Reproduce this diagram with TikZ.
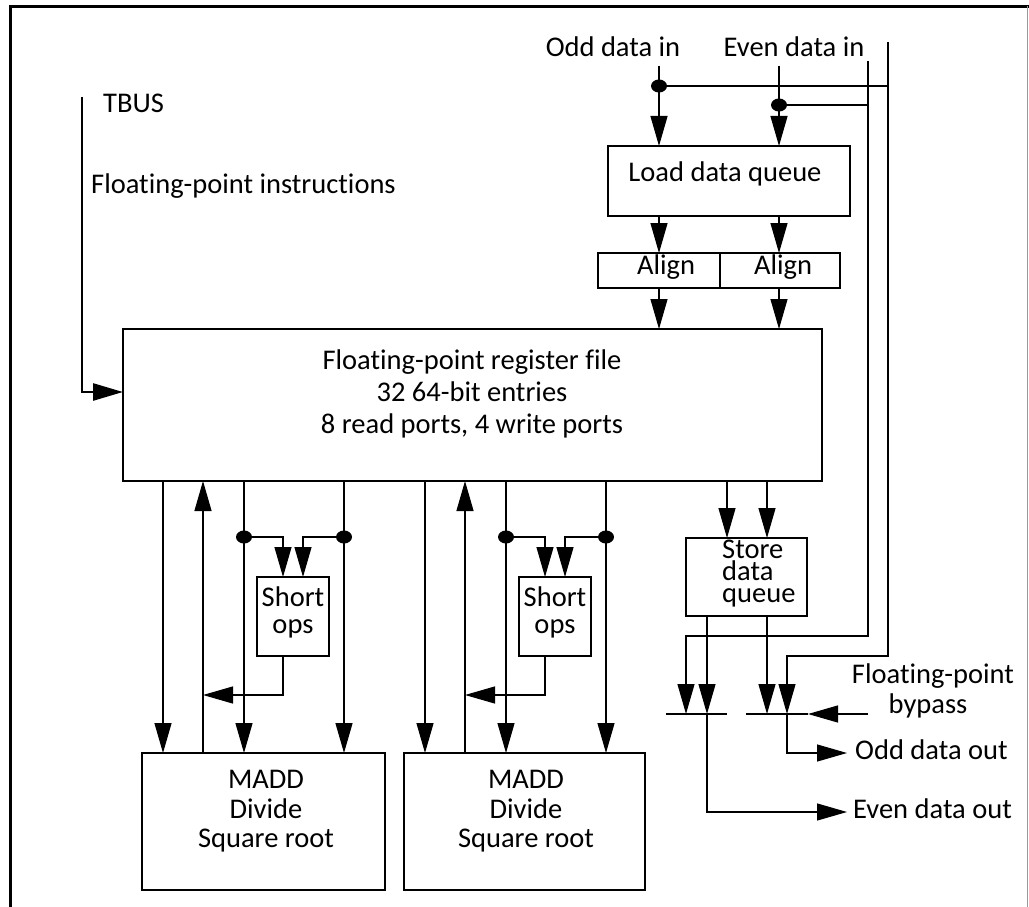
\documentclass[tikz,border=0pt]{standalone}
\usepackage{fontspec}
\setmainfont[Ligatures=NoCommon]{Carlito}
\usetikzlibrary{arrows.meta,fit,shapes.geometric}
\begin{document}
\begin{tikzpicture}[x=1pt,y=-1pt,
  wire/.style={line width=1.2pt, draw=black},
  arr/.style={wire, -{Triangle[length=30pt,width=17pt]}},
  busarr/.style={line width=2.6pt, draw=black, -{Triangle[length=30pt,width=17pt]}},
  box/.style={draw=black, line width=1.2pt, inner sep=0pt, outer sep=0pt},
  lbl/.style={font=\fontsize{28.5}{30}\selectfont, inner sep=0pt, anchor=base},
  dot/.style={ellipse, fill=black, draw=none, inner sep=0pt, minimum width=16pt, minimum height=13pt},
]
\useasboundingbox (0,0) rectangle (1029,907);

% outer frame
\draw[line width=3pt] (10,907) -- (10,6.5) -- (1029,6.5);
\draw[line width=1pt, black!40] (1027.5,6.5) -- (1027.5,907);

% blocks
\node[box, fit={(123,329) (822,481)}] (reg) {};
\node[box, fit={(608,146) (850,216)}] (ldq) {};
\node[box, fit={(598,253) (720,288)}] (al1) {};
\node[box, fit={(720,253) (840,288)}] (al2) {};
\node[box, fit={(686,538) (807,616)}] (sdq) {};
\node[box, fit={(257,577) (329,656)}] (so1) {};
\node[box, fit={(519,577) (591,656)}] (so2) {};
\node[box, fit={(142,753) (385,890)}] (md1) {};
\node[box, fit={(404,753) (645,890)}] (md2) {};

% labels
\node[lbl] (tOddIn) at (613,57) {Odd data in};
\node[lbl] (tEvenIn) at (794,57) {Even data in};
\node[lbl] (tLdq) at (725,181) {Load data queue};
\node[lbl] (tAl1) at (666,274) {Align};
\node[lbl] (tAl2) at (783,274) {Align};
\node[lbl, anchor=base west] (tTbus) at (103,113) {TBUS};
\node[lbl, anchor=base west] (tFpi) at (91,193) {Floating-point instructions};
\node[lbl] (tReg1) at (472,369) {Floating-point register file};
\node[lbl] (tReg2) at (472,401) {32 64-bit entries};
\node[lbl] (tReg3) at (472,433) {8 read ports, 4 write ports};
% store queue caption: the base anchor sits on its last line
\node[lbl, anchor=base west, align=left, font=\fontsize{28.5}{22}\selectfont] (tSdq) at (722,602) {Store\\data\\queue};
\node[lbl] (tSo1a) at (293,606) {Short};
\node[lbl] (tSo1b) at (293,633) {ops};
\node[lbl] (tSo2a) at (555,606) {Short};
\node[lbl] (tSo2b) at (555,633) {ops};
\node[lbl] (tMd1a) at (266,788) {MADD};
\node[lbl] (tMd1b) at (266,818) {Divide};
\node[lbl] (tMd1c) at (266,847) {Square root};
\node[lbl] (tMd2a) at (526,788) {MADD};
\node[lbl] (tMd2b) at (526,818) {Divide};
\node[lbl] (tMd2c) at (526,847) {Square root};
\node[lbl] (tByp1) at (933,683) {Floating-point};
\node[lbl] (tByp2) at (928,713) {bypass};
\node[lbl, anchor=base west] (tOddOut) at (855,759) {Odd data out};
\node[lbl, anchor=base west] (tEvenOut) at (853,818) {Even data out};

% TBUS into the register file
\coordinate (tbTop) at (82,97);
\coordinate (tbBend) at (82,392);
\draw[busarr] (tbTop) -- (tbBend) -- (tbBend -| reg.west);

% load path
\coordinate (oddIn) at (659,66);
\coordinate (evenIn) at (779,66);
\draw[arr] (oddIn) -- (oddIn |- ldq.north);
\draw[arr] (evenIn) -- (evenIn |- ldq.north);
\draw[arr] (ldq.south -| oddIn) -- (al1.north -| oddIn);
\draw[arr] (ldq.south -| evenIn) -- (al2.north -| evenIn);
\draw[arr] (al1.south -| oddIn) -- (reg.north -| oddIn);
\draw[arr] (al2.south -| evenIn) -- (reg.north -| evenIn);

% load data bypass buses
\node[dot] (dOdd) at (659,86) {};
\node[dot] (dEven) at (779,105) {};
\coordinate (busO) at (888,42);
\coordinate (busE) at (868,61);
\draw[wire] (dOdd.center) -- (dOdd -| busO);
\draw[wire] (dEven.center) -- (dEven -| busE);

% output multiplexers
\coordinate (muxE) at (666,714);
\coordinate (muxEr) at (727,714);
\coordinate (muxO) at (746,714);
\coordinate (byTip) at (808,714);
\coordinate (byIn) at (868,714);
\draw[wire] (muxE) -- (muxEr);
\draw[wire] (muxO) -- (byTip);
\draw[arr] (byIn) -- (byTip);

\coordinate (eBend) at (686,636);
\coordinate (oBend) at (787,656);
\draw[arr] (busE) |- (eBend) -- (eBend |- muxE);
\draw[arr] (busO) |- (oBend) -- (oBend |- muxO);

% register file to store queue
\coordinate (rs1) at (727,500);
\coordinate (rs2) at (767,500);
\draw[arr] (reg.south -| rs1) -- (sdq.north -| rs1);
\draw[arr] (reg.south -| rs2) -- (sdq.north -| rs2);

% store queue to multiplexers
\coordinate (colSE) at (707,714);
\coordinate (colSO) at (767,714);
\draw[arr] (sdq.south -| colSE) -- (colSE);
\draw[arr] (sdq.south -| colSO) -- (colSO);

% data outputs
\coordinate (evOut) at (847,812);
\coordinate (odOut) at (847,753);
\coordinate (odCol) at (787,714);
\draw[arr] (colSE) |- (evOut);
\draw[arr] (odCol) |- (odOut);

% first arithmetic pipe
\coordinate (a1) at (163,600);
\coordinate (a2) at (203,600);
\coordinate (a3) at (244,600);
\coordinate (a4) at (344,600);
\coordinate (a5) at (283,600);
\coordinate (a6) at (303,600);
\coordinate (aRet) at (203,695);
\draw[arr] (reg.south -| a1) -- (md1.north -| a1);
\draw[arr] (md1.north -| a2) -- (reg.south -| a2);
\draw[arr] (reg.south -| a3) -- (md1.north -| a3);
\draw[arr] (reg.south -| a4) -- (md1.north -| a4);
\node[dot] (dA3) at (244,537) {};
\node[dot] (dA4) at (344,537) {};
\draw[arr] (dA3.center) -| (so1.north -| a5);
\draw[arr] (dA4.center) -| (so1.north -| a6);
\draw[arr] (so1.south -| a5) |- (aRet);

% second arithmetic pipe
\coordinate (b1) at (425,600);
\coordinate (b2) at (465,600);
\coordinate (b3) at (506,600);
\coordinate (b4) at (606,600);
\coordinate (b5) at (545,600);
\coordinate (b6) at (565,600);
\coordinate (bRet) at (465,695);
\draw[arr] (reg.south -| b1) -- (md2.north -| b1);
\draw[arr] (md2.north -| b2) -- (reg.south -| b2);
\draw[arr] (reg.south -| b3) -- (md2.north -| b3);
\draw[arr] (reg.south -| b4) -- (md2.north -| b4);
\node[dot] (dB3) at (506,537) {};
\node[dot] (dB4) at (606,537) {};
\draw[arr] (dB3.center) -| (so2.north -| b5);
\draw[arr] (dB4.center) -| (so2.north -| b6);
\draw[arr] (so2.south -| b5) |- (bRet);
\end{tikzpicture}
\end{document}
